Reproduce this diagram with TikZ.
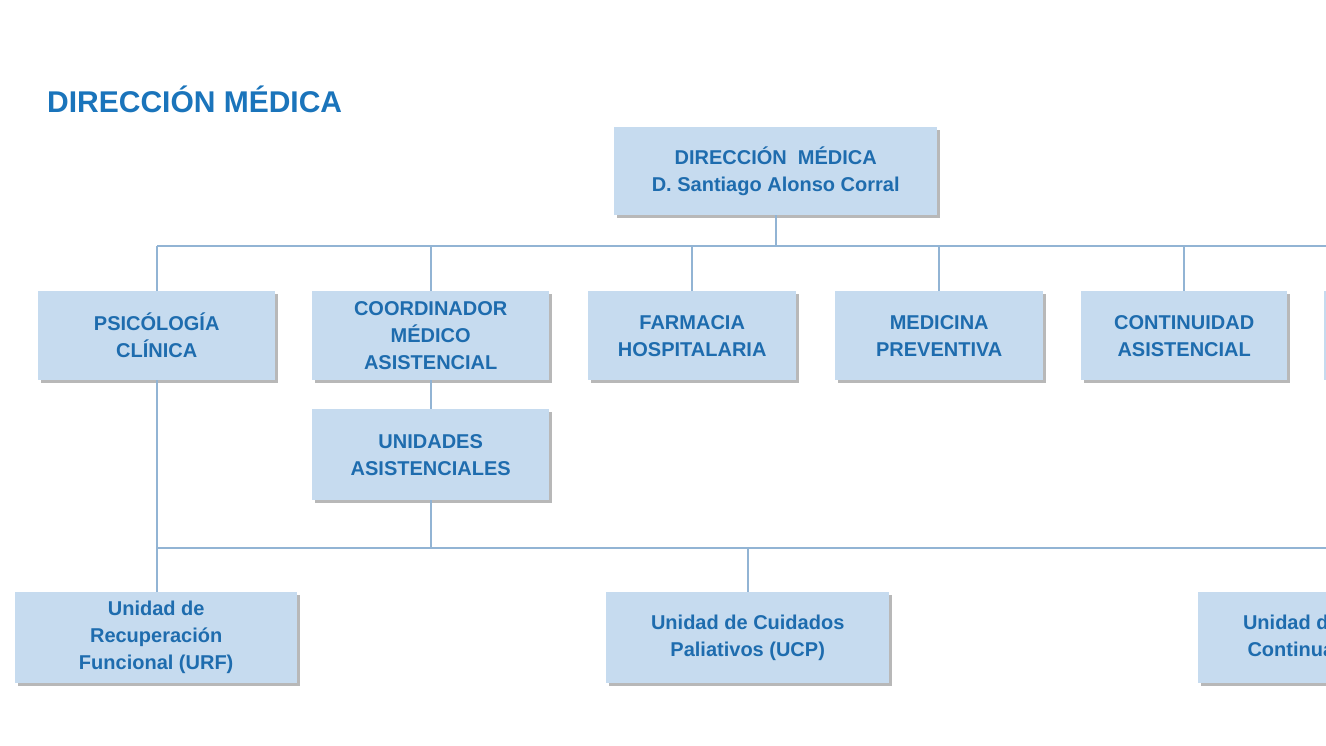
\documentclass[tikz,border=0pt]{standalone}
\usepackage{fontspec}
\setmainfont{Liberation Sans}
\usetikzlibrary{shadows}
\begin{document}
\begin{tikzpicture}[x=1pt,y=-1pt,
  bx/.style={fill=boxfill,text=txt,font=\bfseries\fontsize{20}{27}\selectfont,align=center,inner sep=0pt,anchor=north west,
    drop shadow={shadow xshift=3pt,shadow yshift=-3pt,fill=black!35,opacity=.8}},
  ln/.style={draw=lnc,line width=1.6pt}]
\definecolor{boxfill}{HTML}{C6DBEF}
\definecolor{txt}{HTML}{1E6CAE}
\definecolor{lnc}{HTML}{92B4D4}
\definecolor{ttl}{HTML}{1A74BB}
\useasboundingbox (0,0) rectangle (1326,746);
\clip (0,0) rectangle (1326,746);
\node[text=ttl,font=\bfseries\fontsize{30}{34}\selectfont,anchor=west,inner sep=0pt] (title) at (47,99) {DIRECCIÓN MÉDICA};
\node[bx,minimum width=323pt,minimum height=88pt] (dm) at (614,127) {DIRECCIÓN\ \ MÉDICA\\D. Santiago Alonso Corral};
\node[bx,minimum width=237pt,minimum height=89pt] (psi) at (38,291) {PSICÓLOGÍA\\CLÍNICA};
\node[bx,minimum width=237pt,minimum height=89pt] (coo) at (312,291) {COORDINADOR\\MÉDICO\\ASISTENCIAL};
\node[bx,minimum width=208pt,minimum height=89pt] (far) at (588,291) {FARMACIA\\HOSPITALARIA};
\node[bx,minimum width=208pt,minimum height=89pt] (med) at (835,291) {MEDICINA\\PREVENTIVA};
\node[bx,minimum width=206pt,minimum height=89pt] (con) at (1081,291) {CONTINUIDAD\\ASISTENCIAL};
\node[bx,minimum width=206pt,minimum height=89pt] (ext) at (1324,291) {};
\node[bx,minimum width=237pt,minimum height=91pt] (uni) at (312,409) {UNIDADES\\ASISTENCIALES};
\node[bx,minimum width=282pt,minimum height=91pt] (urf) at (15,592) {Unidad de\\Recuperación\\Funcional (URF)};
\node[bx,minimum width=283pt,minimum height=91pt] (ucp) at (606,592) {Unidad de Cuidados\\Paliativos (UCP)};
\node[bx,minimum width=283pt,minimum height=91pt] (ucc) at (1198,592) {Unidad de Cuidados\\Continuados (UCC)};
\coordinate (h1) at (157,246); \coordinate (h1r) at (1330,246);
\coordinate (h2) at (157,548); \coordinate (h2r) at (1330,548);
\draw[ln] (h1) -- (h1r);
\draw[ln] (h2) -- (h2r);
\draw[ln] (dm.south) -- (dm.south |- h1);
\foreach \n in {psi,coo,far,med,con} \draw[ln] (\n.north |- h1) -- (\n.north);
\draw[ln] (coo.south) -- (uni.north);
\draw[ln] (psi.south) -- (psi.south |- urf.north);
\draw[ln] (uni.south) -- (uni.south |- h2);
\draw[ln] (ucp.north |- h2) -- (ucp.north);
\end{tikzpicture}
\end{document}
